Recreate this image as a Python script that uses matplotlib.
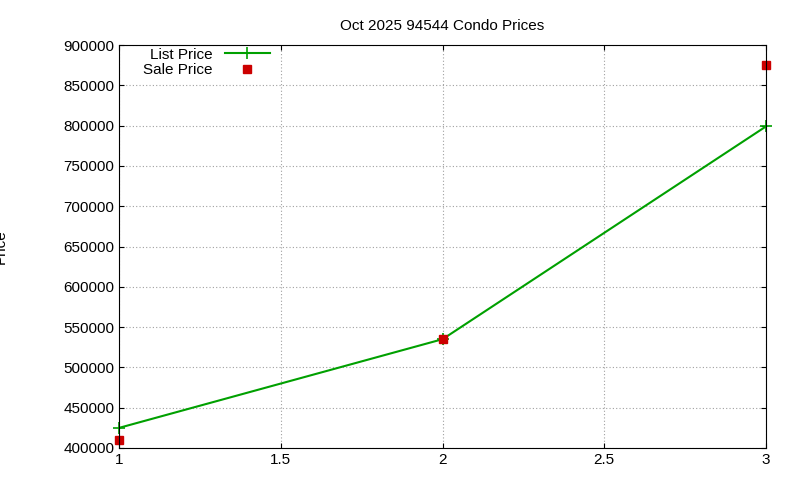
import matplotlib
matplotlib.use("Agg")
import matplotlib.pyplot as plt

list_x = [1, 2, 3]
list_price = [425000, 535000, 799000]
sale_x = [1, 2, 3]
sale_price = [410000, 535000, 875000]

x_ticks = [1, 1.5, 2, 2.5, 3]
x_labels = ["1", "1.5", "2", "2.5", "3"]
y_ticks = list(range(400000, 900001, 50000))


def main():
    plt.rcParams['font.family'] = ['Liberation Sans', 'DejaVu Sans']
    fig = plt.figure(figsize=(8, 4.8), dpi=100)
    ax = fig.add_axes([0.149, 0.0667, 0.8085, 0.8395])

    ax.plot(list_x, list_price, color='#00a000', lw=1.5, marker='+',
            markersize=8, markeredgewidth=1.2, label='List Price', clip_on=False)
    ax.plot(sale_x, sale_price, ls='none', marker='s', color='#cc0000',
            markersize=6, label='Sale Price', clip_on=False)

    ax.set_xlim(1, 3)
    ax.set_ylim(400000, 900000)
    ax.set_xticks(x_ticks)
    ax.set_xticklabels(x_labels)
    ax.set_yticks(y_ticks)
    ax.grid(True, color='#a0a0a0', linestyle=(0, (1, 2)), lw=0.8)
    ax.tick_params(direction='in', labelsize=11, top=True, right=True)
    for s in ax.spines.values():
        s.set_linewidth(0.8)

    ax.set_title('Oct 2025 94544 Condo Prices', fontsize=11, pad=11)
    ax.set_ylabel('Price', fontsize=11, labelpad=40)

    leg = ax.legend(loc='upper left', bbox_to_anchor=(0.02, 1.02), frameon=False,
                    markerfirst=False, fontsize=11, handlelength=3,
                    borderaxespad=0.3, labelspacing=0.1)
    for t in leg.get_texts():
        t.set_ha('right')

    fig.savefig('out.png', dpi=100)


if __name__ == '__main__':
    main()
